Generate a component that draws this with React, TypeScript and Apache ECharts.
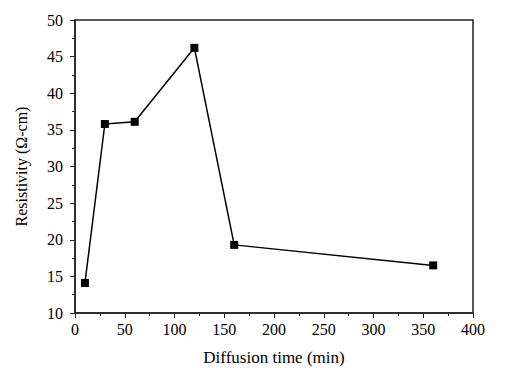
import React, { useEffect, useRef } from "react";
import * as echarts from "echarts";

const diffusionTime = [10, 30, 60, 120, 160, 360];
const resistivity = [14.1, 35.8, 36.1, 46.2, 19.3, 16.5];
const xTitle = "Diffusion time (min)";
const yTitle = "Resistivity (Ω-cm)";

const FONT = "'Liberation Serif', 'DejaVu Serif', serif";

export default function App() {
  const ref = useRef<HTMLDivElement>(null);
  useEffect(() => {
    if (!ref.current) return;
    const chart = echarts.init(ref.current, null, { renderer: "svg" });
    const data = diffusionTime.map((x, i) => [x, resistivity[i]]);
    chart.setOption({
      animation: false,
      backgroundColor: "#fff",
      grid: {
        left: 75,
        right: 32,
        top: 20,
        bottom: 62,
        show: true,
        borderColor: "#222",
        borderWidth: 1.5,
        backgroundColor: "transparent",
      },
      xAxis: {
        type: "value",
        min: 0,
        max: 400,
        interval: 50,
        name: xTitle,
        nameLocation: "middle",
        nameGap: 36,
        nameTextStyle: { fontFamily: FONT, fontSize: 17, color: "#000" },
        axisLine: { show: true, onZero: false, lineStyle: { color: "#222", width: 1.5 } },
        axisTick: { show: true, length: 5, lineStyle: { color: "#222", width: 1 } },
        minorTick: { show: true, splitNumber: 2, length: 3, lineStyle: { color: "#222", width: 1 } },
        axisLabel: { fontFamily: FONT, fontSize: 16, color: "#000", margin: 8 },
        splitLine: { show: false },
      },
      yAxis: {
        type: "value",
        min: 10,
        max: 50,
        interval: 5,
        name: yTitle,
        nameLocation: "middle",
        nameGap: 46,
        nameTextStyle: { fontFamily: FONT, fontSize: 16, color: "#000" },
        axisLine: { show: true, onZero: false, lineStyle: { color: "#222", width: 1.5 } },
        axisTick: { show: true, length: 5, lineStyle: { color: "#222", width: 1 } },
        minorTick: { show: true, splitNumber: 2, length: 3, lineStyle: { color: "#222", width: 1 } },
        axisLabel: { fontFamily: FONT, fontSize: 16, color: "#000", margin: 12 },
        splitLine: { show: false },
      },
      series: [
        {
          type: "line",
          data,
          symbol: "rect",
          symbolSize: 8,
          lineStyle: { color: "#000", width: 1.5 },
          itemStyle: { color: "#000" },
        },
      ],
    });
    return () => chart.dispose();
  }, []);
  return (
    <div
      ref={ref}
      style={{ position: "fixed", left: 0, top: 0, width: 505, height: 375, background: "#fff" }}
    />
  );
}
